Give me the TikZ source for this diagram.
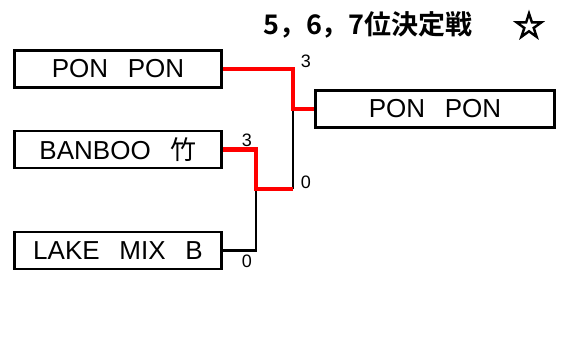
\documentclass[tikz,border=0pt]{standalone}
\usepackage{fontspec}
\setmainfont{Liberation Sans}
\newfontfamily\cjk{Noto Sans CJK JP}
\newfontfamily\cjkb{Noto Sans CJK JP Bold}
\newfontfamily\starfont[FakeBold=4]{DejaVu Sans}
\newcommand{\zsp}{{\cjk\hspace{-0.12em}　\hspace{-0.12em}}}
\begin{document}
\begin{tikzpicture}[x=1pt,y=-1pt,
  team/.style={draw=black,line width=2.7pt,minimum width=207pt,minimum height=37pt,inner sep=0pt,font=\fontsize{26}{28}\selectfont},
  win/.style={draw=red,line width=4.5pt},
  lose/.style={draw=black,line width=2.8pt},
  score/.style={inner sep=0pt,font=\fontsize{18}{20}\selectfont}]
\useasboundingbox (0,0) rectangle (562,349);
\node[team] (pp) at (118,69) {PON\zsp PON};
\node[team] (bb) at (118,149.5) {BANBOO\zsp{\cjk 竹}};
\node[team] (lk) at (118,250.5) {LAKE\zsp MIX\zsp B};
\node[team,minimum width=239pt] (fin) at (435,109) {PON\zsp PON};
\coordinate (m1) at (293,109);
\coordinate (m1b) at (293,189);
\coordinate (m2) at (256,189);
\draw[lose] (m1b) -- (m1);
\draw[lose] (lk.east) -| (m2);
\draw[win] (pp.east) -| (m1) -- (fin.west);
\draw[win] (bb.east) -| (m2) -- (m1b);
\node[score] (s1) at (306,61) {3};
\node[score] (s2) at (247,140) {3};
\node[score] (s3) at (306,182) {0};
\node[score] (s4) at (247,261) {0};
\node[inner sep=0pt,font=\cjkb\fontsize{27}{30}\selectfont] (title) at (368,25) {5，6，7位決定戦};
\node[inner sep=0pt,font=\starfont\fontsize{36}{38}\selectfont] (star) at (529,25) {☆};
\end{tikzpicture}
\end{document}
